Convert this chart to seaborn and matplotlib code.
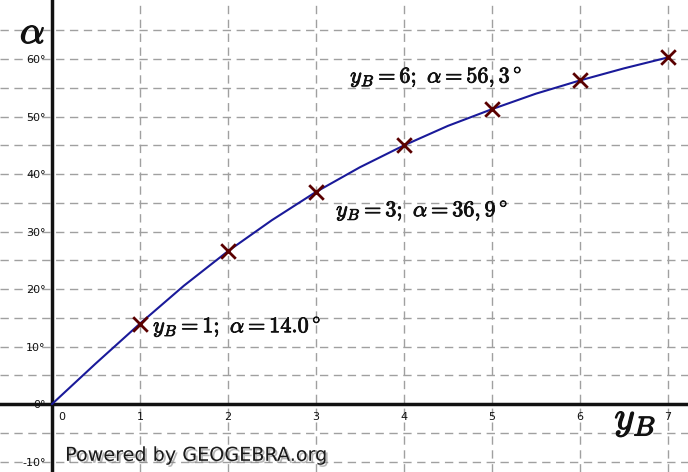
import matplotlib
matplotlib.use("Agg")
import matplotlib.pyplot as plt
import matplotlib.patheffects as pe
import matplotlib.transforms as mtransforms
import seaborn as sns
import pandas as pd

# ------------------------------
# Data
# ------------------------------
curve_yb = [0, 0.5, 1, 1.5, 2, 2.5, 3, 3.5, 4, 4.5, 5, 5.5, 6, 6.5, 7]
curve_alpha = [0, 7.1, 14.0, 20.6, 26.6, 32.0, 36.9, 41.2, 45.0, 48.4, 51.3, 54.0, 56.3, 58.4, 60.3]

point_yb = [1, 2, 3, 4, 5, 6, 7]
point_alpha = [14.0, 26.6, 36.9, 45.0, 51.3, 56.3, 60.3]

x_ticks = [0, 1, 2, 3, 4, 5, 6, 7]
y_ticks = [-10, 0, 10, 20, 30, 40, 50, 60]
y_tick_labels = ["-10°", "0°", "10°", "20°", "30°", "40°", "50°", "60°"]
y_grid = [-10, -5, 0, 5, 10, 15, 20, 25, 30, 35, 40, 45, 50, 55, 60, 65]

notes = [
    (1.15, 13.4, r"$y_B = 1;\ \alpha = 14.0^\circ$"),
    (3.23, 33.6, r"$y_B = 3;\ \alpha = 36,9^\circ$"),
    (3.39, 56.9, r"$y_B = 6;\ \alpha = 56,3^\circ$"),
]

curve = pd.DataFrame({"yb": curve_yb, "alpha": curve_alpha})
points = pd.DataFrame({"yb": point_yb, "alpha": point_alpha})

# ------------------------------
# Style
# ------------------------------
sns.set_style("white")
plt.rcParams["font.family"] = ["DejaVu Sans"]
plt.rcParams["mathtext.fontset"] = "cm"

fig = plt.figure(figsize=(6.88, 4.72), dpi=100)
ax = fig.add_axes([0, 0, 1, 1])

ax.set_xlim(-0.59, 7.23)
ax.set_ylim(-11.8, 70.3)

# grid
ax.set_xticks(x_ticks)
ax.set_yticks(y_ticks)
ax.set_yticks(y_grid, minor=True)
ax.grid(True, which="major", axis="x", color="#a0a0a0", linestyle=(0, (6, 4)), linewidth=1)
ax.grid(True, which="both", axis="y", color="#a0a0a0", linestyle=(0, (6, 4)), linewidth=1)
ax.set_axisbelow(True)

# axes through the origin
for side in ["top", "right"]:
    ax.spines[side].set_visible(False)
ax.spines["left"].set_position(("data", 0))
ax.spines["bottom"].set_position(("data", 0))
for side in ["left", "bottom"]:
    ax.spines[side].set_linewidth(2.5)
    ax.spines[side].set_color("#111111")
    ax.spines[side].set_zorder(3)

ax.set_yticklabels(y_tick_labels)
ax.set_xticklabels([str(t) for t in x_ticks])
ax.tick_params(axis="both", which="major", direction="inout", length=5, width=1.5,
               labelsize=8, colors="#111111")
ax.tick_params(axis="y", which="minor", length=0)
ax.tick_params(axis="y", pad=2)
ax.tick_params(axis="x", pad=3)

# push the "0" label to the right of the vertical axis
zero_lbl = ax.get_xticklabels()[0]
zero_lbl.set_transform(zero_lbl.get_transform() +
                       mtransforms.ScaledTranslation(10 / 100, 0, fig.dpi_scale_trans))

# curve and points
sns.lineplot(data=curve, x="yb", y="alpha", ax=ax, color="#1a1a9a", linewidth=1.5, zorder=4)
sns.scatterplot(data=points, x="yb", y="alpha", ax=ax, marker="x", s=110,
                color="#5a0000", linewidth=2, zorder=5)
ax.set_xlabel("")
ax.set_ylabel("")

# annotations
for x, y, t in notes:
    ax.text(x, y, t, fontsize=16, ha="left", va="center", color="#111111", zorder=6,
            path_effects=[pe.withStroke(linewidth=0.6, foreground="#111111")])

ax.text(-0.22, 64.7, r"$\alpha$", fontsize=28, ha="center", va="center", color="#111111",
        path_effects=[pe.withStroke(linewidth=0.9, foreground="#111111")])
ax.text(6.63, -2.6, r"$y_B$", fontsize=28, ha="center", va="center", color="#111111",
        path_effects=[pe.withStroke(linewidth=0.9, foreground="#111111")])

ax.text(0.15, -8.9, "Powered by GEOGEBRA.org", fontsize=13.8, ha="left", va="center",
        color="#1a1a1a", zorder=6,
        path_effects=[pe.SimplePatchShadow(offset=(1.5, -1.5), shadow_rgbFace="#888888", alpha=0.6),
                      pe.Normal()])

fig.savefig("out.png", dpi=100)
